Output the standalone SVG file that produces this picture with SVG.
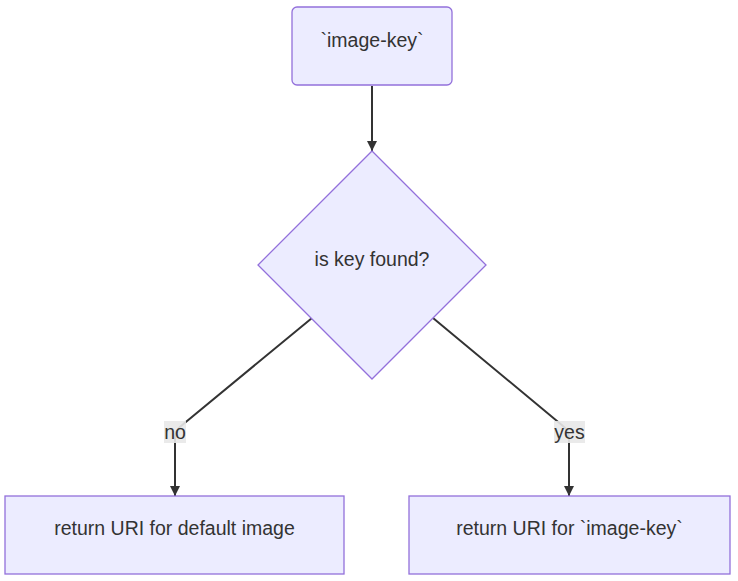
<svg xmlns="http://www.w3.org/2000/svg" width="738" height="581" viewBox="0 0 738 581">
<style>
.node{fill:#ECECFF;stroke:#9370DB;stroke-width:1.3px}
.lbl{font-family:"Liberation Sans",Arial,sans-serif;font-size:19.5px;fill:#333333;text-anchor:middle;dominant-baseline:central}
.edge{fill:none;stroke:#333333;stroke-width:2px}
.elbg{fill:#e8e8e8;opacity:0.9}
</style>
<defs>
<marker id="arr" viewBox="0 0 10 10" refX="10" refY="5" markerWidth="10" markerHeight="10" markerUnits="userSpaceOnUse" orient="auto">
<path d="M0,0 L10,5 L0,10 z" fill="#333333"/>
</marker>
</defs>
<rect width="738" height="581" fill="#ffffff"/>
<g id="edges">
<path class="edge" d="M372,86 L372,151" marker-end="url(#arr)"/>
<path class="edge" d="M312,318 L181,426 Q175,431 175,438 L175,496" marker-end="url(#arr)"/>
<path class="edge" d="M433,318 L563,426 Q569,431 569,438 L569,496" marker-end="url(#arr)"/>
</g>
<g id="edge-labels">
<g id="label-no">
<rect class="elbg" x="164" y="421" width="22" height="22"/>
<text class="lbl" x="175" y="432">no</text>
</g>
<g id="label-yes">
<rect class="elbg" x="554" y="421" width="31" height="22"/>
<text class="lbl" x="569.5" y="432">yes</text>
</g>
</g>
<g id="node-start">
<rect class="node" x="292" y="7" width="160" height="78" rx="5" ry="5"/>
<text class="lbl" x="372" y="40">`image-key`</text>
</g>
<g id="node-decision">
<polygon class="node" points="372,151 486,265 372,379 258,265"/>
<text class="lbl" x="372" y="259">is key found?</text>
</g>
<g id="node-default">
<rect class="node" x="5" y="496" width="339" height="78"/>
<text class="lbl" x="174.5" y="528">return URI for default image</text>
</g>
<g id="node-found">
<rect class="node" x="409" y="496" width="321" height="78"/>
<text class="lbl" x="569.5" y="528">return URI for `image-key`</text>
</g>
</svg>
